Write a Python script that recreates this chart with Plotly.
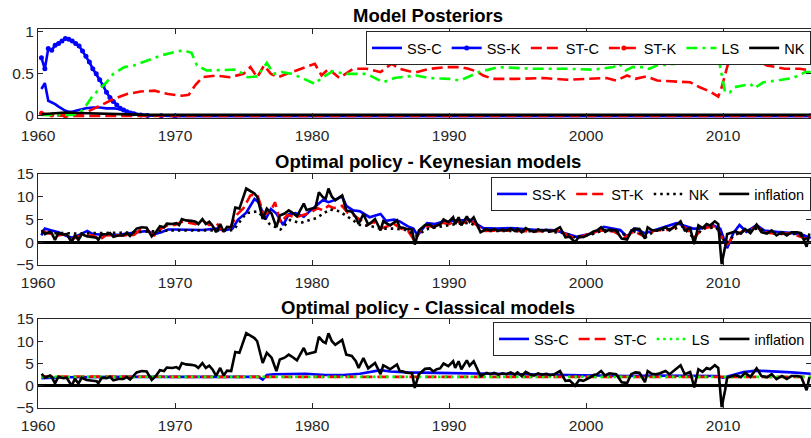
import plotly.graph_objects as go

# ---------------- Panel 1: Model posteriors ----------------
ssc_t = [1960.25, 1960.5, 1960.75, 1961.0, 1961.25, 1961.5, 1961.75, 1962.0, 1962.25, 1962.5, 1962.75,
         1963.0, 1963.25, 1963.5, 1964.0, 1964.5, 1965.0, 1965.5, 1966.0, 1966.5, 1967.0, 1967.5, 1968.5,
         1970.0, 2016.4]
ssc_p = [0.32, 0.39, 0.18, 0.16, 0.14, 0.11, 0.09, 0.06, 0.05, 0.05, 0.06,
         0.07, 0.08, 0.09, 0.10, 0.10, 0.09, 0.09, 0.08, 0.05, 0.03, 0.015, 0.005,
         0.0, 0.0]

ssk_t = [1960.25, 1960.5, 1960.75, 1961.0, 1961.25, 1961.5, 1961.75, 1962.0, 1962.25, 1962.5, 1962.75,
         1963.0, 1963.25, 1963.5, 1963.75, 1964.0, 1964.25, 1964.5, 1964.75, 1965.0, 1965.25, 1965.5,
         1965.75, 1966.0, 1966.25, 1966.5, 1966.75, 1967.0, 1967.5, 1968.0, 1969.0, 1970.0, 2016.4]
ssk_p = [0.69, 0.56, 0.80, 0.78, 0.84, 0.86, 0.89, 0.92, 0.91, 0.89, 0.86,
         0.83, 0.77, 0.71, 0.64, 0.56, 0.50, 0.43, 0.36, 0.28, 0.22, 0.17,
         0.13, 0.09, 0.07, 0.05, 0.035, 0.025, 0.012, 0.005, 0.002, 0.0, 0.0]

stc_t = [1960.25, 1962.5, 1963.0, 1963.5, 1964.0, 1964.5, 1965.0, 1965.5, 1966.0, 1966.5, 1967.5, 1968.5,
         1969.5, 1970.5, 1971.0, 1971.5, 1972.0, 1973.0, 1974.0, 1975.0, 1975.5, 1976.0, 1976.5, 1977.0,
         1977.5, 1978.5, 1979.0, 1980.2, 1980.7, 1981.2, 1982.0, 1983.0, 1984.0, 1985.0, 1985.8, 1986.4,
         1987.1, 1987.6, 1988.6, 1989.8, 1990.8, 1991.4, 1992.0, 1992.5, 1993.2, 1994.9, 1996.9, 1998.6,
         2000.05, 2001.5, 2002.2, 2003.0, 2003.6, 2004.4, 2005.2, 2006.6, 2007.6, 2008.3, 2009.05, 2009.65,
         2009.9, 2010.4, 2011.0, 2012.0, 2012.7, 2013.2, 2013.9, 2014.5, 2015.6, 2016.4]
stc_p = [0.02, 0.01, 0.02, 0.04, 0.08, 0.12, 0.16, 0.20, 0.23, 0.26, 0.29, 0.30,
         0.26, 0.24, 0.25, 0.37, 0.46, 0.48, 0.46, 0.50, 0.58, 0.46, 0.60, 0.50,
         0.46, 0.52, 0.55, 0.62, 0.48, 0.56, 0.45, 0.56, 0.56, 0.52, 0.62, 0.56,
         0.53, 0.52, 0.56, 0.58, 0.58, 0.56, 0.53, 0.48, 0.44, 0.44, 0.45, 0.43,
         0.44, 0.45, 0.42, 0.48, 0.44, 0.47, 0.42, 0.41, 0.40, 0.34, 0.29, 0.23,
         0.34, 0.64, 0.66, 0.67, 0.64, 0.60, 0.58, 0.56, 0.56, 0.54]

stk_t = [1960.25, 1961.0, 1962.0, 2016.4]
stk_p = [0.03, 0.01, 0.0, 0.0]

ls_t = [1960.25, 1962.5, 1963.0, 1963.5, 1964.0, 1964.5, 1965.0, 1965.5, 1966.3, 1967.0, 1968.0, 1969.0,
        1970.0, 1970.6, 1971.2, 1971.6, 1972.3, 1973.5, 1974.5, 1975.3, 1976.0, 1976.7, 1977.2, 1977.8,
        1978.5, 1979.3, 1980.2, 1980.7, 1981.5, 1982.5, 1984.0, 1985.2, 1986.0, 1987.0, 1987.6, 1988.6,
        1990.07, 1990.8, 1991.5, 1992.3, 1992.9, 1993.6, 1996.2, 1998.6, 2000.5, 2002.0, 2002.4, 2002.9,
        2003.4, 2004.2, 2004.6, 2005.2, 2006.6, 2007.8, 2009.05, 2009.65, 2010.15, 2010.5, 2010.8, 2011.5,
        2012.0, 2012.3, 2012.95, 2013.9, 2015.1, 2016.0, 2016.4]
ls_p = [0.01, 0.01, 0.03, 0.12, 0.24, 0.32, 0.40, 0.50, 0.58, 0.60, 0.66, 0.72,
        0.76, 0.78, 0.75, 0.60, 0.54, 0.55, 0.55, 0.46, 0.47, 0.63, 0.50, 0.52,
        0.50, 0.45, 0.38, 0.45, 0.53, 0.50, 0.50, 0.40, 0.45, 0.47, 0.48, 0.45,
        0.44, 0.42, 0.47, 0.53, 0.55, 0.58, 0.56, 0.56, 0.55, 0.58, 0.62, 0.54,
        0.58, 0.58, 0.56, 0.60, 0.62, 0.64, 0.69, 0.70, 0.28, 0.28, 0.34, 0.36,
        0.38, 0.33, 0.40, 0.42, 0.45, 0.52, 0.52]

nk_t = [1960.25, 1961.0, 1962.0, 1963.0, 1964.0, 1966.0, 1968.0, 2016.4]
nk_p = [0.02, 0.03, 0.04, 0.035, 0.03, 0.02, 0.012, 0.012]

# ---------------- Inflation (shared by panels 2 and 3) ----------------
infl_t = [1960.27, 1960.51, 1960.88, 1961.0, 1961.24, 1961.48, 1961.85, 1962.09, 1962.46, 1962.7, 1962.95,
          1963.19, 1963.55, 1963.92, 1964.28, 1964.4, 1964.65, 1965.01, 1965.26, 1965.5, 1965.86, 1966.23,
          1966.47, 1966.72, 1967.2, 1967.57, 1967.93, 1968.3, 1968.6, 1968.9, 1969.2, 1969.4, 1969.8,
          1970.1, 1970.3, 1970.5, 1970.8, 1971.2, 1971.5, 1971.7, 1972.0, 1972.25, 1972.5, 1972.75, 1973.0,
          1973.3, 1973.55, 1973.8, 1974.1, 1974.4, 1974.7, 1975.2, 1975.5, 1975.8, 1976.0, 1976.4, 1976.7,
          1977.05, 1977.4, 1977.65, 1978.0, 1978.3, 1978.6, 1978.9, 1979.4, 1979.6, 1980.0, 1980.25, 1980.5,
          1980.8, 1981.0, 1981.2, 1981.45, 1981.7, 1982.2, 1982.5, 1982.9, 1983.2, 1983.4, 1983.75, 1984.1,
          1984.3, 1984.6, 1985.0, 1985.2, 1985.45, 1985.7, 1986.2, 1986.4, 1986.65, 1986.9, 1987.3, 1987.5,
          1987.8, 1988.25, 1988.6, 1988.85, 1989.1, 1989.35, 1989.6, 1989.95, 1990.3, 1990.45, 1990.7,
          1990.9, 1991.3, 1991.5, 1991.8, 1992.3, 1992.75, 1993.0, 1993.3, 1993.6, 1993.9, 1994.2, 1994.5,
          1994.8, 1995.0, 1995.3, 1995.6, 1995.9, 1996.2, 1996.5, 1996.8, 1997.1, 1997.4, 1997.7, 1998.1,
          1998.5, 1998.8, 1999.2, 1999.5, 1999.8, 2000.3, 2000.55, 2000.8, 2001.1, 2001.4, 2001.7, 2002.2,
          2002.6, 2003.0, 2003.3, 2003.6, 2003.9, 2004.3, 2004.5, 2004.8, 2005.1, 2005.4, 2005.8, 2006.1,
          2006.35, 2006.6, 2006.9, 2007.2, 2007.6, 2007.9, 2008.2, 2008.5, 2008.8, 2009.05, 2009.4, 2009.65,
          2009.9, 2010.15, 2010.3, 2010.5, 2010.9, 2011.3, 2011.6, 2012.0, 2012.45, 2012.8, 2013.2, 2013.55,
          2013.9, 2014.3, 2014.65, 2015.0, 2015.4, 2015.7, 2016.1, 2016.3]
infl_v = [2.7, 1.8, 2.3, 2.0, 0.5, 2.0, 1.7, 1.8, 0.0, 1.6, 0.5,
          1.8, 1.3, 1.2, 1.0, 0.5, 1.8, 1.7, 2.0, 1.2, 1.5, 1.5,
          2.0, 1.4, 3.0, 3.3, 3.2, 1.3, 2.2, 3.5, 3.3, 4.1, 4.0,
          4.2, 3.8, 5.1, 4.8, 4.7, 4.5, 4.0, 5.1, 4.0, 4.5, 3.6, 2.2,
          4.0, 2.3, 3.4, 3.3, 7.6, 7.4, 11.8, 11.2, 10.7, 10.0, 5.1, 7.4,
          6.3, 3.3, 5.9, 6.3, 7.0, 6.4, 5.7, 8.5, 7.1, 7.4, 7.6, 11.0,
          9.9, 9.6, 11.8, 10.0, 9.2, 10.3, 7.0, 6.7, 5.5, 4.0, 6.2, 3.9,
          4.3, 5.1, 2.6, 4.6, 4.2, 3.7, 4.8, 3.3, 3.2, 2.9, 2.8, -0.5,
          2.6, 3.8, 3.9, 3.2, 3.7, 3.9, 5.0, 4.4, 5.5, 4.0, 5.5,
          3.7, 5.7, 4.5, 5.5, 2.2, 2.9, 2.6, 2.9, 2.5, 2.8, 2.6, 3.0,
          2.5, 3.0, 2.2, 3.1, 2.6, 2.3, 2.8, 2.5, 2.7, 2.4, 2.6, 3.3,
          1.1, 1.2, 0.0, 1.3, 1.1, 1.9, 2.4, 2.6, 3.3, 2.3, 2.8, 2.6,
          0.8, 0.6, 2.6, 3.0, 2.9, 0.8, 3.3, 2.7, 2.6, 2.8, 3.3, 2.6,
          3.2, 3.7, 4.6, 2.6, 3.1, -0.4, 3.7, 3.1, 4.0, 3.7, 4.6, 4.0,
          -4.8, -1.0, 1.8, 2.0, 2.4, 1.9, 2.9, 2.0, 3.9, 2.2, 1.9, 2.6,
          1.5, 2.2, 1.5, 2.2, 2.2, 2.0, -1.0, 1.9]

# ---------------- Panel 2: Keynesian models ----------------
pol_ssk_t = [1960.25, 1960.5, 1961.0, 1961.5, 1962.0, 1962.5, 1963.0, 1963.6, 1964.0, 1965.0, 1966.0, 1967.0,
             1967.5, 1968.0, 1968.5, 1969.0, 1969.5, 1970.0, 1971.0, 1972.0, 1973.0, 1973.6, 1974.2, 1974.6,
             1975.2, 1975.8, 1976.1, 1976.6, 1977.0, 1977.4, 1977.9, 1978.3, 1978.8, 1979.4, 1979.9, 1980.3,
             1980.8, 1981.2, 1981.6, 1982.2, 1982.5, 1983.0, 1983.5, 1984.2, 1985.0, 1985.4, 1986.0, 1986.4,
             1987.0, 1987.4, 1987.7, 1988.4, 1989.0, 1989.5, 1990.0, 1990.5, 1991.0, 1991.5, 1992.0, 1992.5,
             1993.5, 1994.5, 1995.5, 1996.5, 1997.5, 1998.1, 1999.3, 2000.5, 2001.3, 2002.5, 2003.0, 2003.5,
             2004.3, 2005.4, 2006.6, 2007.8, 2008.3, 2009.3, 2009.8, 2010.3, 2010.75, 2011.2, 2011.7, 2012.45,
             2013.0, 2013.9, 2015.1, 2015.85, 2016.4]
pol_ssk_v = [1.5, 3.0, 2.6, 2.2, 1.5, 1.0, 1.6, 2.5, 1.8, 1.6, 1.7, 2.0,
             2.3, 2.5, 1.8, 2.2, 2.8, 2.8, 2.7, 2.7, 3.0, 2.6, 3.0, 5.0,
             6.5, 9.5, 8.8, 5.0, 7.3, 6.3, 3.8, 6.1, 6.4, 5.6, 7.0, 8.0,
             9.3, 8.8, 9.2, 10.1, 8.0, 7.0, 6.8, 5.5, 6.2, 4.7, 5.0, 4.6,
             3.5, 3.0, 1.5, 4.2, 4.0, 4.5, 4.5, 4.8, 4.8, 5.0, 4.0, 3.1,
             3.0, 3.1, 2.9, 2.7, 2.7, 2.3, 1.2, 2.0, 3.4, 2.7, 1.2, 3.0,
             2.0, 3.0, 4.2, 3.0, 3.0, 3.7, 3.0, -1.3, 2.0, 3.8, 2.3, 3.8,
             2.6, 2.3, 2.0, 1.6, 0.9]

pol_stk_t = [1960.25, 1960.75, 1961.5, 1962.0, 1962.5, 1963.0, 1964.0, 1964.5, 1965.0, 1966.0, 1967.0, 1967.5,
             1968.0, 1968.5, 1969.0, 1969.5, 1970.0, 1970.5, 1971.0, 1971.5, 1972.0, 1972.5, 1973.0, 1973.5,
             1974.0, 1974.5, 1975.0, 1975.5, 1976.0, 1976.5, 1977.0, 1977.3, 1977.7, 1978.2, 1978.8, 1979.4,
             1979.9, 1980.4, 1980.8, 1981.2, 1981.6, 1982.2, 1982.6, 1983.0, 1983.5, 1984.0, 1984.5, 1985.0,
             1985.5, 1986.0, 1986.5, 1987.0, 1987.5, 1988.0, 1988.5, 1989.0, 1989.5, 1990.0, 1990.5, 1991.0,
             1991.5, 1992.0, 1992.5, 1994.0, 1996.0, 1998.0, 1999.2, 2000.0, 2001.0, 2002.0, 2002.8, 2003.5,
             2004.3, 2005.0, 2006.0, 2006.9, 2007.5, 2007.9, 2008.5, 2009.5, 2010.0, 2010.3, 2010.8, 2011.5,
             2012.5, 2013.0, 2014.0, 2015.0, 2016.0, 2016.4]
pol_stk_v = [2.5, 2.0, 1.5, 1.8, 0.7, 1.3, 1.5, 0.6, 1.6, 1.5, 1.6, 2.8,
             2.5, 1.5, 3.0, 3.8, 3.8, 4.5, 4.3, 4.0, 4.8, 3.8, 4.3, 2.5,
             3.0, 6.0, 7.5, 10.3, 10.5, 6.0, 7.0, 8.8, 4.3, 6.0, 5.5, 6.0,
             6.5, 7.5, 7.0, 8.0, 7.5, 8.0, 6.5, 6.0, 5.0, 3.8, 4.5, 3.0,
             3.5, 4.0, 3.0, 2.5, 0.3, 3.2, 3.5, 3.5, 4.3, 4.0, 4.6, 4.2,
             4.8, 3.8, 2.5, 2.6, 2.4, 2.5, 0.8, 1.6, 2.6, 2.4, 1.0, 2.4,
             1.2, 2.6, 2.7, 3.8, 2.6, 1.0, 3.0, 3.6, 0.5, -0.5, 1.5, 2.5,
             3.3, 2.2, 1.8, 2.0, 0.8, 1.2]

pol_nk_t = [1960.25, 1961.0, 1962.0, 1963.0, 1964.0, 1965.0, 1966.0, 1967.0, 1968.0, 1969.0, 1970.0, 1971.0,
            1972.0, 1973.0, 1974.0, 1974.3, 1974.8, 1975.2, 1976.0, 1976.6, 1976.9, 1977.7, 1978.4, 1979.1,
            1980.3, 1981.3, 1982.0, 1982.8, 1983.5, 1984.2, 1985.0, 1986.0, 1986.8, 1987.6, 1988.5, 1989.5,
            1990.5, 1991.5, 1992.3, 1993.0, 1995.0, 1997.0, 1998.5, 1999.3, 2000.5, 2001.3, 2002.5, 2003.0,
            2003.6, 2004.4, 2005.0, 2006.5, 2007.0, 2007.9, 2008.5, 2009.5, 2010.2, 2010.8, 2011.5, 2012.5,
            2013.5, 2014.5, 2015.5, 2016.0, 2016.4]
pol_nk_v = [2.2, 2.0, 2.0, 1.9, 2.0, 2.0, 2.1, 2.2, 2.4, 2.5, 2.6, 2.6,
            2.7, 2.6, 2.6, 2.8, 4.8, 6.4, 6.8, 5.2, 4.0, 2.8, 4.9, 4.2,
            5.3, 7.2, 6.8, 5.3, 3.8, 3.6, 3.0, 3.0, 2.7, 1.5, 3.0, 3.5,
            4.0, 4.3, 3.0, 2.5, 2.5, 2.4, 2.0, 0.9, 1.8, 2.7, 2.3, 1.2,
            2.5, 1.2, 2.5, 3.0, 3.5, 0.8, 3.0, 3.3, -0.3, 1.5, 2.5, 3.0,
            2.0, 1.8, 1.8, 0.8, 1.0]

# ---------------- Panel 3: Classical models ----------------
pol_ssc_t = [1960.25, 1962.0, 1966.0, 1976.1, 1976.4, 1976.7, 1977.2, 1979.5, 1981.0, 1982.3, 1983.5, 1984.5,
             1985.0, 1985.7, 1987.0, 1989.0, 1991.0, 1993.0, 1995.0, 1997.0, 1999.0, 2001.0, 2003.0, 2005.0,
             2007.0, 2009.5, 2010.0, 2010.5, 2011.5, 2012.5, 2013.5, 2015.0, 2016.4]
pol_ssc_v = [1.7, 1.9, 2.0, 2.0, 1.4, 2.4, 2.6, 2.7, 2.4, 2.4, 2.7, 3.2,
             3.5, 3.2, 3.0, 2.9, 2.8, 2.7, 2.6, 2.5, 2.3, 2.3, 2.2, 2.3,
             2.3, 2.2, 1.8, 2.2, 3.1, 3.4, 3.3, 3.0, 2.7]

pol_stc_t = [1960.25, 1970.0, 2016.4]
pol_stc_v = [2.1, 2.0, 2.0]

pol_ls_t = [1960.25, 2016.4]
pol_ls_v = [2.0, 2.0]

x_ticks = [1960, 1970, 1980, 1990, 2000, 2010]
x_range = [1960, 2016.42]
titles = ["Model Posteriors", "Optimal policy - Keynesian models", "Optimal policy - Classical models"]

BLUE, RED, GREEN, BLACK = "#0000FF", "#FF0000", "#00FF00", "#000000"
DASH = "11px,5px"
DASHDOT = "11px,5px,3px,5px"
DOT = "2.5px,4px"
LW = 2.6

fig = go.Figure()


def add(t, v, name, color, dash, xa, ya, legend, marker=False):
    fig.add_trace(go.Scatter(
        x=t, y=v, name=name,
        mode="lines+markers" if marker else "lines",
        line=dict(color=color, width=LW, dash=dash),
        marker=dict(size=5, color=color) if marker else None,
        xaxis=xa, yaxis=ya, legend=legend))


add(ssc_t, ssc_p, "SS-C", BLUE, "solid", "x", "y", "legend")
add(ssk_t, ssk_p, "SS-K", BLUE, "solid", "x", "y", "legend", marker=True)
add(stc_t, stc_p, "ST-C", RED, DASH, "x", "y", "legend")
add(stk_t, stk_p, "ST-K", RED, DASH, "x", "y", "legend", marker=True)
add(ls_t, ls_p, "LS", GREEN, DASHDOT, "x", "y", "legend")
add(nk_t, nk_p, "NK", BLACK, "solid", "x", "y", "legend")

add(pol_ssk_t, pol_ssk_v, "SS-K", BLUE, "solid", "x2", "y2", "legend2")
add(pol_stk_t, pol_stk_v, "ST-K", RED, DASH, "x2", "y2", "legend2")
add(pol_nk_t, pol_nk_v, "NK", BLACK, DOT, "x2", "y2", "legend2")
add(infl_t, infl_v, "inflation", BLACK, "solid", "x2", "y2", "legend2")

add(pol_ssc_t, pol_ssc_v, "SS-C", BLUE, "solid", "x3", "y3", "legend3")
add(pol_stc_t, pol_stc_v, "ST-C", RED, DASH, "x3", "y3", "legend3")
add(pol_ls_t, pol_ls_v, "LS", GREEN, DOT, "x3", "y3", "legend3")
add(infl_t, infl_v, "inflation", BLACK, "solid", "x3", "y3", "legend3")

H = 438.0
FONT = "Liberation Sans, Arial, sans-serif"
AX = "#262626"


def dom(top, bottom):
    return [1 - bottom / H, 1 - top / H]


xcommon = dict(range=x_range, tickvals=x_ticks, ticks="inside", ticklen=5, tickcolor=AX,
               showline=True, linecolor=AX, linewidth=1, mirror="ticks", showgrid=False,
               zeroline=False, tickfont=dict(family=FONT, size=15.5, color=AX),
               ticklabelstandoff=3, automargin=False)
ycommon = dict(ticks="inside", ticklen=5, tickcolor=AX, showline=True, linecolor=AX, linewidth=1,
               mirror="ticks", showgrid=False, tickfont=dict(family=FONT, size=15.5, color=AX),
               automargin=False)

y_domains = [dom(29, 118), dom(174, 265), dom(319, 408)]

legcommon = dict(orientation="h", xanchor="right", x=1, yanchor="top", bgcolor="white",
                 bordercolor=AX, borderwidth=1, font=dict(family=FONT, size=14.5, color="black"),
                 itemwidth=30, tracegroupgap=0)

fig.update_layout(
    width=811, height=438,
    margin=dict(l=38, r=0, t=0, b=0, autoexpand=False),
    plot_bgcolor="white", paper_bgcolor="white",
    showlegend=True,
    xaxis=dict(domain=[0, 1], anchor="y", **xcommon),
    yaxis=dict(domain=y_domains[0], anchor="x", range=[-0.025, 1.033], tickvals=[0, 0.5, 1],
               ticktext=["0", "0.5", "1"], zeroline=False, **ycommon),
    xaxis2=dict(domain=[0, 1], anchor="y2", **xcommon),
    yaxis2=dict(domain=y_domains[1], anchor="x2", range=[-5, 15], tickvals=[-5, 0, 5, 10, 15],
                zeroline=True, zerolinecolor=BLACK, zerolinewidth=2.5, **ycommon),
    xaxis3=dict(domain=[0, 1], anchor="y3", **xcommon),
    yaxis3=dict(domain=y_domains[2], anchor="x3", range=[-5, 15], tickvals=[-5, 0, 5, 10, 15],
                zeroline=True, zerolinecolor=BLACK, zerolinewidth=2.5, **ycommon),
    legend=dict(y=1 - 31 / H, **legcommon),
    legend2=dict(y=1 - 177 / H, **legcommon),
    legend3=dict(y=1 - 322 / H, **legcommon),
)

title_y = [1 - 15.5 / H, 1 - 162 / H, 1 - 307 / H]
for txt, ty in zip(titles, title_y):
    fig.add_annotation(text="<b>" + txt + "</b>", xref="paper", yref="paper",
                       x=(427.5 - 38) / 773, y=ty, xanchor="center", yanchor="middle",
                       showarrow=False, font=dict(family=FONT, size=18.5, color="black"))

fig.write_html("out.html", config={"displayModeBar": False},
               post_script="document.body.style.margin='0px';document.body.style.overflow='hidden';")
